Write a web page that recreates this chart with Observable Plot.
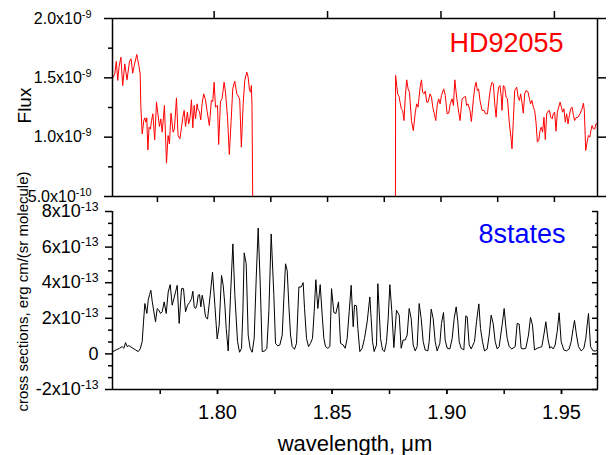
<!DOCTYPE html>
<html><head><meta charset="utf-8">
<script src="https://cdn.jsdelivr.net/npm/d3@7"></script>
<script src="https://cdn.jsdelivr.net/npm/@observablehq/plot@0.6"></script>
<style>
body{margin:0;background:#fff;}
#chart{position:relative;width:609px;height:455px;overflow:hidden;background:#fff;}
#chart svg{position:absolute;left:0;background:none;}
</style></head><body><div id="chart"></div>
<script>
// ---- top panel: HD92055 flux (units of 1e-9) ----
const fluxWavelength = [
1.7553,1.7562,1.7569,1.7575,1.7581,1.7589,1.7597,1.7606,1.7616,1.7627,
1.7634,1.7641,1.7647,1.7659,1.7668,1.7674,1.7677,1.7683,1.7690,1.7694,
1.7700,1.7703,1.7708,1.7713,1.7719,1.7724,1.7730,1.7738,1.7746,1.7753,
1.7759,1.7765,1.7771,1.7781,1.7790,1.7797,1.7803,1.7810,1.7819,1.7825,
1.7834,1.7841,1.7849,1.7856,1.7862,1.7868,1.7874,1.7882,1.7888,1.7894,
1.7900,1.7906,1.7912,1.7918,1.7925,1.7929,1.7935,1.7941,1.7947,1.7954,
1.7962,1.7969,1.7979,1.7988,1.7994,1.8000,1.8006,1.8015,1.8020,1.8028,
1.8035,1.8044,1.8050,1.8059,1.8067,1.8075,1.8082,1.8091,1.8100,1.8109,
1.8113,1.8120,1.8128,1.8135,1.8144,1.8150,1.8156,1.8161,1.8164,1.8167,
1.8172,1.8799,
1.8800,1.8809,1.8815,1.8825,1.8831,1.8837,1.8843,1.8849,1.8855,1.8861,
1.8870,1.8878,1.8887,1.8893,1.8899,1.8908,1.8914,1.8919,1.8925,1.8931,
1.8937,1.8943,1.8952,1.8958,1.8964,1.8969,1.8977,1.8984,1.8990,1.8996,
1.9002,1.9012,1.9019,1.9027,1.9034,1.9041,1.9049,1.9055,1.9061,1.9069,
1.9075,1.9084,1.9093,1.9102,1.9108,1.9113,1.9119,1.9128,1.9134,1.9143,
1.9149,1.9155,1.9160,1.9166,1.9172,1.9181,1.9190,1.9196,1.9205,1.9213,
1.9219,1.9225,1.9231,1.9237,1.9243,1.9249,1.9254,1.9260,1.9266,1.9269,
1.9275,1.9281,1.9287,1.9293,1.9301,1.9310,1.9313,1.9319,1.9325,1.9334,
1.9340,1.9346,1.9351,1.9357,1.9363,1.9369,1.9375,1.9384,1.9390,1.9395,
1.9401,1.9407,1.9413,1.9419,1.9425,1.9431,1.9437,1.9442,1.9448,1.9454,
1.9460,1.9466,1.9472,1.9478,1.9484,1.9490,1.9495,1.9501,1.9507,1.9513,
1.9519,1.9525,1.9531,1.9536,1.9542,1.9548,1.9554,1.9560,1.9566,1.9572,
1.9578,1.9584,1.9589,1.9595,1.9604,1.9613,1.9622,1.9628,1.9632,1.9638,
1.9644,1.9650,1.9656,1.9661,1.9666,1.9672,1.9678,1.9683,1.9689];
const fluxE9 = [
1.500,1.534,1.640,1.478,1.596,1.674,1.435,1.618,1.483,1.640,
1.660,1.539,1.596,1.697,1.604,1.534,1.253,1.028,1.140,1.163,
1.126,1.163,0.893,1.084,1.067,1.140,1.197,0.978,1.295,1.183,
1.090,1.154,1.042,1.267,0.781,1.014,0.944,1.202,1.042,1.070,
1.331,1.014,0.986,1.079,1.168,1.225,1.090,1.211,1.112,1.168,
1.315,1.079,1.267,1.154,1.281,1.230,1.219,1.146,1.281,1.365,
1.315,1.219,1.098,1.309,1.301,1.463,1.253,1.267,0.938,1.303,
1.323,1.463,1.379,1.168,0.854,1.140,1.407,1.472,1.365,1.337,
1.309,0.916,1.281,1.478,1.548,1.506,1.393,1.379,1.435,1.267,
0,0,
1.520,1.365,1.343,1.239,1.225,1.140,1.351,1.483,1.407,1.379,
1.140,1.056,1.211,1.281,1.253,1.421,1.483,1.379,1.365,1.388,
1.295,1.295,1.365,1.337,1.253,1.211,1.140,1.281,1.323,1.281,
1.351,1.407,1.351,1.197,1.202,1.281,1.323,1.267,1.483,1.337,
1.253,1.140,1.323,1.337,1.343,1.267,1.281,1.225,1.132,1.323,
1.421,1.463,1.393,1.407,1.309,1.225,1.225,1.197,1.197,1.337,
1.421,1.463,1.449,1.281,1.168,1.337,1.421,1.435,1.337,1.225,
1.435,1.421,1.337,1.323,1.126,0.972,0.902,1.140,1.393,1.421,
1.337,1.309,1.365,1.295,1.202,1.365,1.393,1.379,1.323,1.281,
1.309,1.253,1.225,1.126,0.958,0.972,1.056,1.084,1.042,1.168,
0.980,1.197,1.219,1.225,1.168,1.154,1.197,1.211,1.051,1.211,
1.253,1.295,1.253,1.211,1.239,1.126,1.197,1.112,1.183,1.239,
1.253,1.183,1.140,1.163,1.168,1.197,1.239,1.286,1.225,0.888,
0.958,1.014,1.000,1.056,1.098,1.070,1.070,1.112,1.112];

// ---- bottom panel: 8states cross sections (units of 1e-13) ----
const xsWavelength = [
1.75436,1.75581,1.75727,1.75843,1.75916,1.75988,1.76061,1.76134,1.76221,1.76308,
1.76424,1.76541,1.76628,1.76715,1.76773,1.76831,1.76919,1.76977,1.77035,1.77093,
1.77151,1.77224,1.77297,1.77369,1.77442,1.77515,1.77587,1.77674,1.77762,1.77849,
1.77936,1.78023,1.78096,1.78169,1.78241,1.78328,1.78430,1.78517,1.78605,1.78692,
1.78779,1.78866,1.78924,1.78983,1.79041,1.79099,1.79157,1.79215,1.79273,1.79331,
1.79390,1.79477,1.79564,1.79680,1.79782,1.79884,1.79985,1.80073,1.80174,1.80247,
1.80320,1.80378,1.80465,1.80567,1.80669,1.80756,1.80872,1.80959,1.81047,1.81105,
1.81163,1.81250,1.81337,1.81424,1.81512,1.81599,1.81686,1.81773,1.81860,1.81948,
1.82064,1.82151,1.82238,1.82340,1.82456,1.82529,1.82631,1.82718,1.82820,1.82892,
1.82965,1.83038,1.83110,1.83183,1.83256,1.83358,1.83445,1.83547,1.83648,1.83735,
1.83794,1.83881,1.83968,1.84055,1.84142,1.84215,1.84288,1.84375,1.84477,1.84564,
1.84637,1.84709,1.84811,1.84898,1.84971,1.85073,1.85160,1.85276,1.85363,1.85480,
1.85567,1.85654,1.85741,1.85828,1.85916,1.85974,1.86061,1.86119,1.86206,1.86308,
1.86410,1.86526,1.86642,1.86700,1.86759,1.86831,1.86933,1.86991,1.87108,1.87195,
1.87282,1.87369,1.87442,1.87515,1.87602,1.87689,1.87805,1.87922,1.88009,1.88096,
1.88183,1.88270,1.88358,1.88445,1.88532,1.88619,1.88706,1.88794,1.88881,1.88968,
1.89055,1.89172,1.89230,1.89317,1.89404,1.89491,1.89578,1.89695,1.89767,1.89855,
1.89927,1.90015,1.90131,1.90233,1.90320,1.90407,1.90480,1.90538,1.90625,1.90741,
1.90828,1.90887,1.90974,1.91061,1.91206,1.91294,1.91395,1.91468,1.91555,1.91642,
1.91759,1.91846,1.91933,1.92020,1.92108,1.92195,1.92282,1.92413,1.92500,1.92573,
1.92631,1.92718,1.92834,1.92980,1.93067,1.93154,1.93241,1.93328,1.93445,1.93561,
1.93648,1.93735,1.93823,1.93939,1.94026,1.94142,1.94230,1.94317,1.94404,1.94491,
1.94549,1.94637,1.94724,1.94811,1.94898,1.94985,1.95102,1.95218,1.95334,1.95422,
1.95509,1.95567,1.95654,1.95741,1.95858,1.95974,1.96061,1.96119,1.96177,1.96265,
1.96381,1.96497,1.96555];
const xsE13 = [
0.130,0.223,0.316,0.409,0.316,0.633,0.409,0.465,0.391,0.316,
0.223,0.130,0.279,0.689,1.805,2.829,2.271,3.015,3.331,3.573,
2.959,2.364,1.805,2.550,2.457,2.271,2.364,2.922,2.271,3.480,
3.890,2.736,3.108,3.480,3.853,1.712,3.667,3.667,2.364,2.736,
2.885,3.108,3.518,2.643,2.550,2.736,3.294,3.331,2.643,3.294,
2.922,2.085,1.954,3.294,4.597,2.736,0.838,1.619,4.411,3.853,
2.736,1.433,0.168,3.294,6.179,3.294,0.689,0.093,0.316,2.364,
5.677,5.062,1.061,0.316,0.093,0.875,4.225,7.072,4.039,0.130,
0.168,0.316,2.364,6.737,3.294,0.596,0.447,0.503,1.061,3.108,
5.062,4.690,2.736,1.061,0.409,0.261,0.596,3.760,3.760,4.002,
2.550,0.875,0.409,0.596,0.875,2.364,4.169,2.550,3.890,2.178,
0.875,0.409,0.316,0.409,3.667,2.326,2.271,2.922,0.596,0.503,
0.316,0.875,2.364,3.853,1.526,2.736,2.699,1.433,0.130,0.316,
0.875,1.805,3.201,1.991,0.689,0.130,0.503,3.946,0.875,0.223,
0.130,0.689,1.991,3.890,2.364,0.354,2.457,2.178,0.316,0.782,
0.782,1.061,2.550,1.991,0.503,0.168,0.409,2.829,1.991,0.689,
0.223,0.168,0.689,2.513,1.991,0.689,0.168,0.596,1.712,2.326,
0.782,0.316,0.279,0.875,1.991,2.643,1.805,0.689,0.316,0.223,
2.140,2.085,0.503,0.279,0.689,1.805,2.810,1.433,0.689,0.168,
0.279,1.061,2.178,1.712,0.689,0.279,0.409,1.656,2.550,1.526,
0.875,0.409,0.279,0.409,1.712,1.675,0.316,0.279,0.316,1.061,
2.047,1.619,0.223,0.316,0.354,0.409,1.061,1.805,0.875,0.316,
0.409,0.279,0.503,1.247,2.308,0.689,0.223,0.168,0.279,0.689,
1.433,1.880,1.061,0.409,0.168,0.316,0.875,1.619,2.271,0.409,
0.168,0.168,0.223];

// ---- axes / ticks ----
const xDomainTop = [1.7552, 1.9690];
const xDomainBottom = [1.7542, 1.9657];
const xMajorTicks = [1.80, 1.85, 1.90, 1.95];
const xAllTicks = [1.775, 1.80, 1.825, 1.85, 1.875, 1.90, 1.925, 1.95];
const fluxDomain = [0.5, 2.0];
const fluxMajorTicks = [0.5, 1.0, 1.5, 2.0];
const fluxMinorTicks = [0.75, 1.25, 1.75];
const xsDomain = [-2, 8];
const xsMajorTicks = [-2, 0, 2, 4, 6, 8];
const xsMinorTicks = [-4/3, -2/3, 2/3, 4/3, 8/3, 10/3, 14/3, 16/3, 20/3, 22/3];
const topLabel = "HD92055";
const bottomLabel = "8states";
const xTitle = "wavelength, μm";
const topYTitle = "Flux";
const bottomYTitle = "cross sections, erg cm/(sr molecule)";

function sci(v, digits) {
  if (v === 0) return "0";
  const e = Math.floor(Math.log10(Math.abs(v)) + 1e-9);
  const m = v / Math.pow(10, e);
  return m.toFixed(digits) + "x10^" + (e < 0 ? "-" + (-e) : String(e));
}
const FONT = "Liberation Sans, Arial, Helvetica, sans-serif";
const none = () => "";

const flux = fluxWavelength.map((w, i) => ({w, f: fluxE9[i]}));
const xs = xsWavelength.map((w, i) => ({w, v: xsE13[i]}));

const topPlot = Plot.plot({
  width: 609, height: 205,
  marginLeft: 112, marginRight: 12, marginTop: 18, marginBottom: 9,
  style: {fontFamily: FONT, background: "none", overflow: "visible"},
  x: {domain: xDomainTop},
  y: {domain: fluxDomain},
  marks: [
    Plot.line(flux, {x: "w", y: "f", stroke: "#ff0000", strokeWidth: 1, clip: true}),
    Plot.frame({stroke: "#000", strokeWidth: 1.5}),
    Plot.axisY(fluxMajorTicks, {anchor: "left", tickSize: 8, tickPadding: 13, fontSize: 16, strokeWidth: 1.5,
      tickFormat: d => sci(d * 1e-9, 1), label: null, fill: "#000"}),
    Plot.axisY(fluxMinorTicks, {anchor: "left", tickSize: 4, strokeWidth: 1.5, tickFormat: none, label: null}),
    Plot.axisY(fluxMajorTicks, {anchor: "right", tickSize: 8, strokeWidth: 1.5, tickFormat: none, label: null}),
    Plot.axisX(xMajorTicks, {anchor: "top", tickSize: 8, strokeWidth: 1.5, tickFormat: none, label: null}),
    Plot.axisX(xAllTicks, {anchor: "bottom", tickSize: 6, strokeWidth: 1.5, tickFormat: none, label: null}),
    Plot.text([topLabel], {frameAnchor: "top-right", textAnchor: "end", lineAnchor: "bottom",
      dx: -34, dy: 33, fontSize: 27, fill: "#ff0000"}),
    Plot.text([topYTitle], {frameAnchor: "left", textAnchor: "middle", lineAnchor: "middle", rotate: -90,
      dx: -88, dy: -2, fontSize: 19, fill: "#000"})
  ]
});

const bottomPlot = Plot.plot({
  width: 609, height: 255,
  marginLeft: 112, marginRight: 12, marginTop: 11, marginBottom: 66,
  style: {fontFamily: FONT, background: "none", overflow: "visible"},
  x: {domain: xDomainBottom},
  y: {domain: xsDomain},
  marks: [
    Plot.line(xs, {x: "w", y: "v", stroke: "#000", strokeWidth: 1, clip: true}),
    Plot.ruleX([xDomainBottom[0], xDomainBottom[1]], {stroke: "#000", strokeWidth: 1.5}),
    Plot.ruleY([xsDomain[0]], {stroke: "#000", strokeWidth: 1.5}),
    Plot.axisY(xsMajorTicks, {anchor: "left", tickSize: 7, tickPadding: 7, fontSize: 18, strokeWidth: 1.5,
      tickFormat: d => sci(d * 1e-13, 0), label: null, fill: "#000"}),
    Plot.axisY(xsMinorTicks, {anchor: "left", tickSize: 4, strokeWidth: 1.5, tickFormat: none, label: null}),
    Plot.axisY(xsMajorTicks, {anchor: "right", tickSize: -6, strokeWidth: 1.5, tickFormat: none, label: null}),
    Plot.axisY(xsMinorTicks, {anchor: "right", tickSize: -3, strokeWidth: 1.5, tickFormat: none, label: null}),
    Plot.axisX(xAllTicks, {anchor: "bottom", tickSize: 5, strokeWidth: 1.5, tickFormat: none, label: null}),
    Plot.axisX(xMajorTicks, {anchor: "bottom", tickSize: 5, tickPadding: 10, strokeWidth: 1.5, fontSize: 20,
      tickFormat: d => d.toFixed(2), label: null, fill: "#000"}),
    Plot.text([bottomLabel], {frameAnchor: "top-right", textAnchor: "end", lineAnchor: "bottom",
      dx: -32, dy: 31, fontSize: 27, fill: "#0000ff"}),
    Plot.text([bottomYTitle], {frameAnchor: "left", textAnchor: "middle", lineAnchor: "middle", rotate: -90,
      dx: -89, dy: -9, fontSize: 15, fill: "#000"}),
    Plot.text([xTitle], {frameAnchor: "bottom", textAnchor: "middle", lineAnchor: "middle", dy: 54, fontSize: 22, fill: "#000"})
  ]
});

function supify(svg) {
  d3.select(svg).selectAll("text").each(function() {
    const t = this.textContent;
    const i = t.indexOf("^");
    if (i < 0) return;
    const sel = d3.select(this);
    sel.text(null);
    sel.append("tspan").text(t.slice(0, i));
    sel.append("tspan").attr("dy", "-0.55em").attr("font-size", "0.68em").text(t.slice(i + 1));
  });
}
supify(topPlot); supify(bottomPlot);

const chart = document.getElementById("chart");
bottomPlot.style.top = "200px";
topPlot.style.top = "0px";
chart.appendChild(bottomPlot);
chart.appendChild(topPlot);
</script>
</body></html>
